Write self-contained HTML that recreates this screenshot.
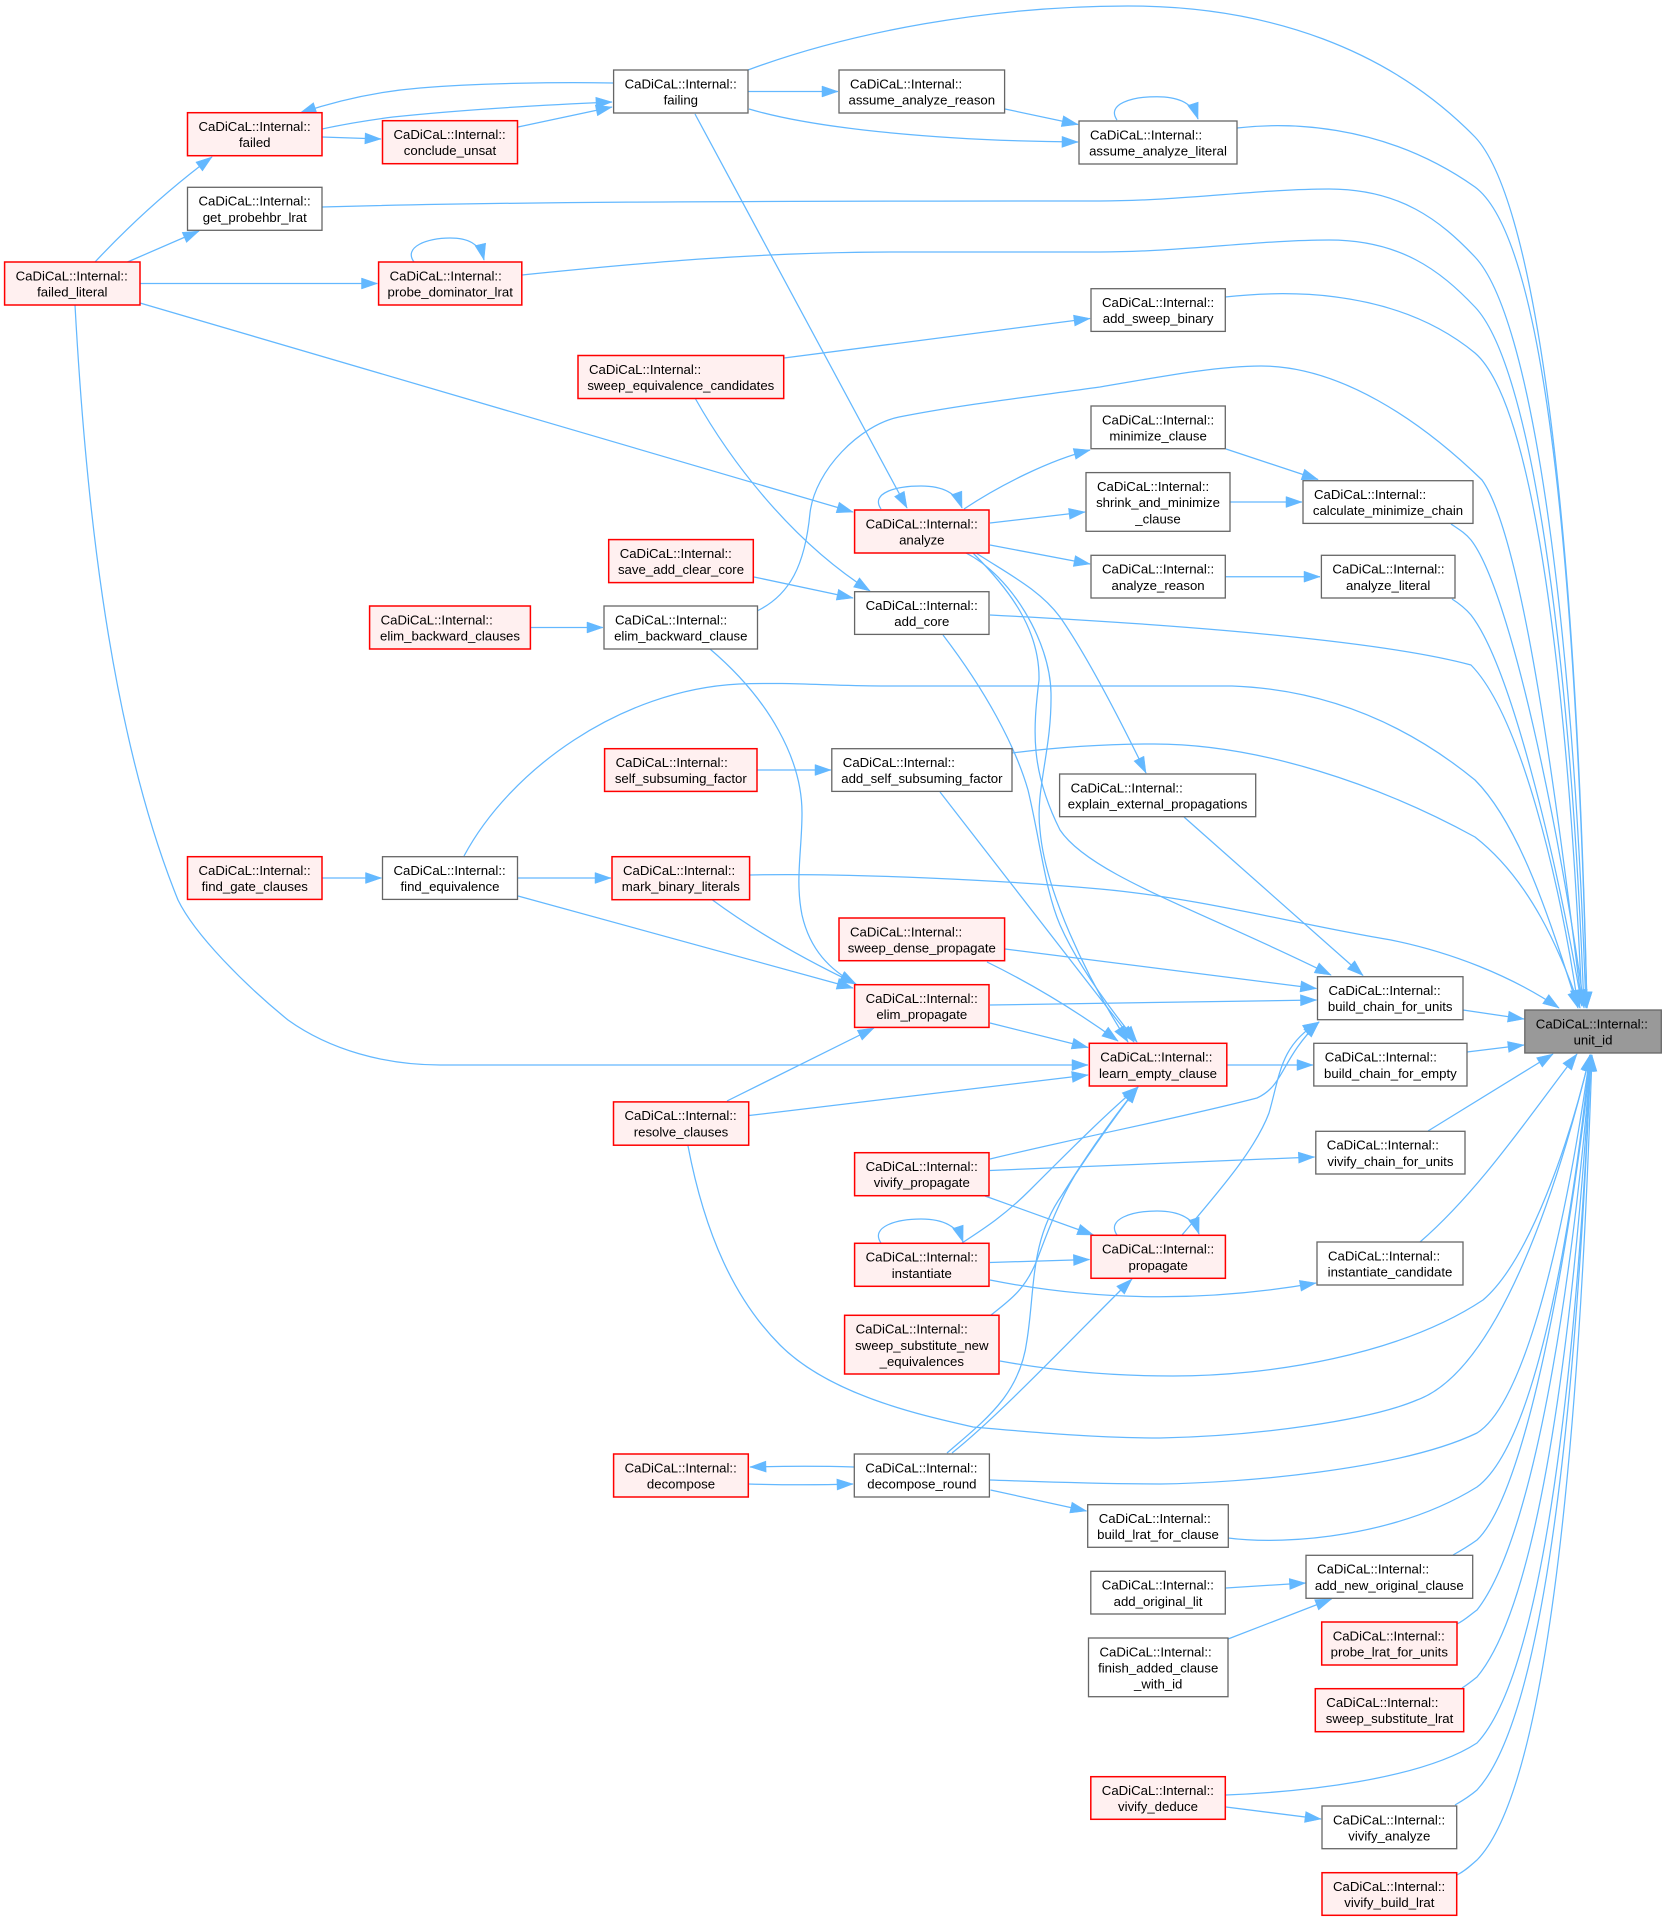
<!DOCTYPE html>
<html><head><meta charset="utf-8"><title>CaDiCaL::Internal::unit_id</title>
<style>
html,body{margin:0;padding:0;background:#fff}
svg{display:block}
text{font-family:"Liberation Sans",Arial,sans-serif;font-size:13.2px;fill:#000}
.m{text-anchor:middle}
.r{fill:#FFF0F0;stroke:#FF0000;stroke-width:1.5}
.g{fill:#fff;stroke:#666;stroke-width:1.3}
.u{fill:#999;stroke:#666;stroke-width:1.3}
.e path{fill:none;stroke:#63B8FF;stroke-width:1.25;marker-end:url(#a)}
</style></head><body>
<svg xmlns="http://www.w3.org/2000/svg" width="1662" height="1921" viewBox="0 0 1662 1921">
<defs><marker id="a" markerUnits="userSpaceOnUse" markerWidth="16" markerHeight="12" refX="16" refY="5.5" orient="auto" overflow="visible"><path d="M0,0 L16,5.5 L0,11 Z" fill="#63B8FF" stroke="#63B8FF" stroke-width="0.5"/></marker></defs>
<g class="e">
<!-- to unit_id from above -->
<path d="M748,70 C850,32 990,6 1128,6 C1270,6 1390,50 1475,137 C1530,195 1575,470 1587,1008"/>
<path d="M1237,128 C1280,123 1380,120 1475,187 C1540,235 1575,520 1587,1008"/>
<path d="M322,207 C500,202 700,201 1100,201 C1180,201 1260,189 1329,189 C1400,189 1440,220 1475,257 C1530,315 1572,600 1586,1008"/>
<path d="M522,275 C650,262 760,252 900,252 L1100,252 C1180,252 1260,240 1329,240 C1400,240 1440,270 1475,307 C1530,365 1570,640 1584,1008"/>
<path d="M1225,297 C1270,292 1390,283 1475,353 C1535,405 1568,690 1582,1006"/>
<path d="M757,611 C790,595 805,565 810,513 C815,470 860,425 899,417 C960,405 1020,398 1100,387 C1170,375 1220,366 1261,366 C1340,366 1420,420 1482,480 C1525,540 1560,830 1582,1006"/>
<path d="M1451,524 C1460,530 1465,533 1471,540 C1510,590 1560,830 1584,1006"/>
<path d="M1452,599 C1460,604 1465,608 1471,615 C1510,665 1555,850 1582,1006"/>
<path d="M990,615 C1090,620 1360,635 1471,665 C1520,715 1560,880 1578,1006"/>
<path d="M464,856 C510,770 620,690 739,684 C790,682 830,686 881,686 L1232,686 C1340,690 1420,735 1475,780 C1520,825 1550,920 1578,1008"/>
<path d="M1012,753 C1060,747 1110,744 1154,744 C1260,744 1380,785 1475,837 C1530,880 1560,950 1580,1008"/>
<path d="M750,875 C850,873 1000,880 1100,889 C1200,898 1300,925 1391,940 C1450,952 1510,975 1559,1008"/>
<path d="M1463,1010 L1524,1019"/>
<path d="M1467,1052 L1524,1045"/>
<!-- to unit_id from below -->
<path d="M1428,1131 L1553,1054"/>
<path d="M1420,1242 C1480,1190 1530,1115 1577,1054"/>
<path d="M1000,1361 C1060,1372 1120,1376 1173,1376 C1270,1376 1400,1355 1483,1300 C1530,1260 1570,1140 1590,1055"/>
<path d="M688,1146 C705,1235 735,1300 780,1345 C830,1395 920,1415 973,1427 C1040,1433 1100,1438 1160,1438 C1260,1436 1370,1420 1417,1400 C1500,1370 1560,1180 1590,1055"/>
<path d="M990,1480 C1050,1482 1100,1484 1160,1484 C1240,1483 1400,1470 1477,1433 C1530,1400 1570,1200 1590,1055"/>
<path d="M1228,1538 C1290,1546 1400,1535 1477,1487 C1540,1440 1575,1200 1590,1055"/>
<path d="M1453,1555 C1462,1550 1470,1545 1477,1540 C1530,1490 1575,1210 1591,1055"/>
<path d="M1457,1624 C1465,1620 1470,1615 1477,1610 C1540,1530 1578,1230 1591,1055"/>
<path d="M1462,1688 C1467,1685 1472,1681 1477,1677 C1550,1590 1580,1240 1591,1055"/>
<path d="M1226,1795 C1300,1792 1420,1780 1477,1743 C1555,1660 1582,1260 1591,1055"/>
<path d="M1455,1805 C1462,1801 1470,1796 1477,1790 C1560,1700 1582,1260 1591,1055"/>
<path d="M1457,1875 C1465,1871 1470,1866 1477,1860 C1565,1770 1585,1260 1592,1055"/>
<!-- upper left -->
<path d="M613,83 C560,82 480,83 420,88 C370,92 330,103 300,113"/>
<path d="M322,129 C345,124 370,120 393,117 C450,111 520,106 612,102"/>
<path d="M518,127 L612,107"/>
<path d="M322,137 L381,139"/>
<path d="M748,91.5 L838,91.5"/>
<path d="M1005,109 L1078,124.5"/>
<path d="M749,109 C820,130 950,141 1078,142"/>
<path d="M95,262 C125,230 165,192 212,157"/>
<path d="M127.500,262 L199,231"/>
<path d="M140,283.500 L377.500,283.500"/>
<path d="M140,303 L853,512"/>
<path d="M695,114 L907,508"/>
<path d="M784,358 L1090,318.500"/>
<path d="M695,398 C730,460 790,540 870,591"/>
<!-- loops -->
<path d="M1117,120 C1106,104 1132,96.700 1157,96.700 C1175,96.700 1192,101 1198,119"/>
<path d="M414,262 C403,247 427,238 450,238 C467,238 480,243 484,260"/>
<path d="M881,509 C870,493 896,486 921,486 C939,486 956,491 962,508"/>
<path d="M881,1243 C870,1227 896,1219 921,1219 C939,1219 957,1224 963,1242"/>
<path d="M1117,1235 C1106,1219 1132,1211 1157,1211 C1175,1211 1193,1216 1199,1234"/>
<!-- analyze area -->
<path d="M964,509 C1000,485 1050,460 1090,450"/>
<path d="M990,523 L1085,512"/>
<path d="M990,545 L1090,564"/>
<path d="M1225,576.700 L1320,576.700"/>
<path d="M1230,502 L1302,502"/>
<path d="M1226,449 L1318,479.500"/>
<path d="M754,577 L853,598"/>
<path d="M530,627.500 L603,627.500"/>
<path d="M757,770 L831,770"/>
<path d="M322,878 L381.500,878"/>
<path d="M517.500,878 L611,878"/>
<path d="M518,896 L853,988"/>
<path d="M712.500,900 C760,935 810,962 856,984"/>
<path d="M710,649 C770,700 802,760 802,813 C802,850 795,880 802,915 C810,950 830,970 856,984"/>
<!-- into learn_empty_clause from above -->
<path d="M940,792 L1134,1042"/>
<path d="M943,635 C985,690 1015,745 1028,790 C1040,840 1045,890 1060,925 C1080,970 1115,1015 1137,1042"/>
<path d="M966,553 C1010,575 1050,640 1051,693 C1052,750 1035,790 1040,830 C1045,890 1085,975 1128,1042"/>
<path d="M973,553 C1010,590 1040,630 1039,680 C1033,730 1030,770 1060,830 C1090,875 1200,910 1331,975"/>
<path d="M976,553 C1010,575 1040,590 1060,617 C1090,660 1125,730 1146,773"/>
<path d="M1184,817 L1363,975.500"/>
<path d="M1005,949 L1316.500,988.500"/>
<path d="M990,1005 L1316.500,1000"/>
<path d="M990,1023 L1088,1047.500"/>
<path d="M987,962 C1030,983 1075,1010 1118,1041"/>
<path d="M75,305 C84,470 105,720 178,900 C195,935 245,985 288,1020 C330,1050 385,1065 440,1065 L1088,1065"/>
<path d="M749,1115.500 L1088,1075"/>
<path d="M727,1101 L874,1028"/>
<path d="M1227,1065 L1313,1065"/>
<!-- lower middle -->
<path d="M990,1159 C1090,1135 1180,1118 1257,1098 C1285,1085 1280,1060 1319,1022"/>
<path d="M990,1170.500 L1314.500,1157"/>
<path d="M985,1196 L1093.500,1235"/>
<path d="M1182,1235 C1220,1190 1255,1150 1269,1113 C1280,1075 1280,1045 1319,1022"/>
<path d="M990,1262.500 L1089.500,1259.500"/>
<path d="M990,1280 C1080,1298 1190,1305 1316,1283"/>
<path d="M962,1243 C985,1228 1005,1215 1030,1190 C1070,1150 1110,1110 1138,1087"/>
<path d="M991,1315 C1010,1300 1025,1290 1037,1260 C1050,1225 1060,1200 1075,1175 C1095,1145 1120,1110 1138,1087"/>
<path d="M947,1453 C985,1420 1020,1395 1027,1340 C1035,1290 1030,1240 1062,1195 C1090,1150 1115,1115 1138,1087"/>
<path d="M952,1453 C1000,1415 1080,1330 1132,1279"/>
<path d="M854,1467 C820,1466 790,1466 750,1467"/>
<path d="M748,1484 C785,1485 820,1485 853,1484"/>
<path d="M990.500,1490 L1086.500,1511"/>
<path d="M1226,1588 L1305.500,1583"/>
<path d="M1228,1639 L1331.500,1599"/>
<path d="M1226,1807 L1321,1819"/>
</g>

<g>
<rect class="r" x="187.500" y="112.700" width="134.500" height="43"/><text x="198.500" y="131">CaDiCaL::Internal::</text><text class="m" x="254.750" y="147.200">failed</text>
<rect class="r" x="382.500" y="120.700" width="135" height="43"/><text x="393.500" y="139">CaDiCaL::Internal::</text><text class="m" x="450" y="155.200">conclude_unsat</text>
<rect class="g" x="187.500" y="187.300" width="134.500" height="43"/><text x="198.500" y="205.600">CaDiCaL::Internal::</text><text class="m" x="254.750" y="221.800">get_probehbr_lrat</text>
<rect class="r" x="4.600" y="262" width="135.400" height="43"/><text x="15.600" y="280.300">CaDiCaL::Internal::</text><text class="m" x="72.300" y="296.500">failed_literal</text>
<rect class="r" x="378.600" y="262" width="143.200" height="43"/><text x="389.600" y="280.300">CaDiCaL::Internal::</text><text class="m" x="450.200" y="296.500">probe_dominator_lrat</text>
<rect class="g" x="613.600" y="70" width="134.400" height="43"/><text x="624.600" y="88.300">CaDiCaL::Internal::</text><text class="m" x="680.800" y="104.500">failing</text>
<rect class="g" x="839" y="70" width="165.600" height="43"/><text x="850" y="88.300">CaDiCaL::Internal::</text><text class="m" x="921.800" y="104.500">assume_analyze_reason</text>
<rect class="g" x="1079" y="121" width="158" height="43"/><text x="1090" y="139.300">CaDiCaL::Internal::</text><text class="m" x="1158" y="155.500">assume_analyze_literal</text>
<rect class="g" x="1091" y="288.700" width="134.300" height="42.700"/><text x="1102" y="307">CaDiCaL::Internal::</text><text class="m" x="1158.100" y="323.200">add_sweep_binary</text>
<rect class="r" x="578" y="355.500" width="205.700" height="43"/><text x="589" y="373.800">CaDiCaL::Internal::</text><text class="m" x="680.800" y="390">sweep_equivalence_candidates</text>
<rect class="g" x="1091" y="406" width="134.300" height="42.700"/><text x="1102" y="424.300">CaDiCaL::Internal::</text><text class="m" x="1158.100" y="440.500">minimize_clause</text>
<rect class="g" x="1086" y="472.600" width="144" height="58.700"/><text x="1097" y="490.900">CaDiCaL::Internal::</text><text class="m" x="1158" y="507.100">shrink_and_minimize</text><text class="m" x="1158" y="523.300">_clause</text>
<rect class="r" x="854.600" y="510" width="134.400" height="43"/><text x="865.600" y="528.300">CaDiCaL::Internal::</text><text class="m" x="921.800" y="544.500">analyze</text>
<rect class="r" x="608.700" y="539.600" width="144.600" height="43"/><text x="619.700" y="557.900">CaDiCaL::Internal::</text><text class="m" x="681" y="574.100">save_add_clear_core</text>
<rect class="g" x="1091" y="555.300" width="134.300" height="42.700"/><text x="1102" y="573.600">CaDiCaL::Internal::</text><text class="m" x="1158.100" y="589.800">analyze_reason</text>
<rect class="g" x="1303" y="480.700" width="170" height="42.700"/><text x="1314" y="499">CaDiCaL::Internal::</text><text class="m" x="1388" y="515.200">calculate_minimize_chain</text>
<rect class="g" x="1321.400" y="555.300" width="133.600" height="42.700"/><text x="1332.400" y="573.600">CaDiCaL::Internal::</text><text class="m" x="1388.200" y="589.800">analyze_literal</text>
<rect class="g" x="854.600" y="591.700" width="134.400" height="42.700"/><text x="865.600" y="610">CaDiCaL::Internal::</text><text class="m" x="921.800" y="626.200">add_core</text>
<rect class="g" x="604" y="606" width="153.500" height="43"/><text x="615" y="624.300">CaDiCaL::Internal::</text><text class="m" x="680.800" y="640.500">elim_backward_clause</text>
<rect class="r" x="369.600" y="606" width="160.800" height="43"/><text x="380.600" y="624.300">CaDiCaL::Internal::</text><text class="m" x="450" y="640.500">elim_backward_clauses</text>
<rect class="r" x="604.600" y="748.700" width="152.400" height="42.700"/><text x="615.600" y="767">CaDiCaL::Internal::</text><text class="m" x="680.800" y="783.200">self_subsuming_factor</text>
<rect class="g" x="831.800" y="748.700" width="180.200" height="42.700"/><text x="842.800" y="767">CaDiCaL::Internal::</text><text class="m" x="921.900" y="783.200">add_self_subsuming_factor</text>
<rect class="g" x="1059.600" y="774" width="196.100" height="42.700"/><text x="1070.600" y="792.300">CaDiCaL::Internal::</text><text class="m" x="1157.600" y="808.500">explain_external_propagations</text>
<rect class="r" x="612" y="856.700" width="137.600" height="43"/><text x="623" y="875">CaDiCaL::Internal::</text><text class="m" x="680.800" y="891.200">mark_binary_literals</text>
<rect class="r" x="187.500" y="856.700" width="134.500" height="42.700"/><text x="198.500" y="875">CaDiCaL::Internal::</text><text class="m" x="254.750" y="891.200">find_gate_clauses</text>
<rect class="g" x="382.500" y="856.700" width="135" height="42.700"/><text x="393.500" y="875">CaDiCaL::Internal::</text><text class="m" x="450" y="891.200">find_equivalence</text>
<rect class="r" x="839" y="918" width="165.600" height="42.700"/><text x="850" y="936.300">CaDiCaL::Internal::</text><text class="m" x="921.800" y="952.500">sweep_dense_propagate</text>
<rect class="r" x="854.600" y="984.700" width="134.400" height="42.700"/><text x="865.600" y="1003">CaDiCaL::Internal::</text><text class="m" x="921.800" y="1019.200">elim_propagate</text>
<rect class="r" x="1089.300" y="1043.300" width="137.500" height="42.700"/><text x="1100.300" y="1061.600">CaDiCaL::Internal::</text><text class="m" x="1158" y="1077.800">learn_empty_clause</text>
<rect class="g" x="1317.500" y="976.700" width="145.500" height="43"/><text x="1328.500" y="995">CaDiCaL::Internal::</text><text class="m" x="1390.200" y="1011.200">build_chain_for_units</text>
<rect class="g" x="1313.800" y="1043.300" width="153.200" height="42.700"/><text x="1324.800" y="1061.600">CaDiCaL::Internal::</text><text class="m" x="1390.400" y="1077.800">build_chain_for_empty</text>
<rect class="g" x="1315.800" y="1131.300" width="149.200" height="42.700"/><text x="1326.800" y="1149.600">CaDiCaL::Internal::</text><text class="m" x="1390.400" y="1165.800">vivify_chain_for_units</text>
<rect class="u" x="1524.800" y="1010" width="136.500" height="43"/><text x="1535.800" y="1028.300">CaDiCaL::Internal::</text><text class="m" x="1593" y="1044.500">unit_id</text>
<rect class="g" x="1317" y="1242" width="146" height="43"/><text x="1328" y="1260.300">CaDiCaL::Internal::</text><text class="m" x="1390" y="1276.500">instantiate_candidate</text>
<rect class="r" x="854.600" y="1152.700" width="134.400" height="43"/><text x="865.600" y="1171">CaDiCaL::Internal::</text><text class="m" x="921.800" y="1187.200">vivify_propagate</text>
<rect class="r" x="854.600" y="1243.300" width="134.400" height="43"/><text x="865.600" y="1261.600">CaDiCaL::Internal::</text><text class="m" x="921.800" y="1277.800">instantiate</text>
<rect class="r" x="1091" y="1235.300" width="134.400" height="43"/><text x="1102" y="1253.600">CaDiCaL::Internal::</text><text class="m" x="1158.200" y="1269.800">propagate</text>
<rect class="r" x="844.600" y="1315.300" width="154.400" height="58.700"/><text x="855.600" y="1333.600">CaDiCaL::Internal::</text><text class="m" x="921.800" y="1349.800">sweep_substitute_new</text><text class="m" x="921.800" y="1366">_equivalences</text>
<rect class="r" x="613.500" y="1101.900" width="135.200" height="43.300"/><text x="624.500" y="1120.200">CaDiCaL::Internal::</text><text class="m" x="681" y="1136.400">resolve_clauses</text>
<rect class="r" x="613.600" y="1454" width="134.700" height="43"/><text x="624.600" y="1472.300">CaDiCaL::Internal::</text><text class="m" x="681" y="1488.500">decompose</text>
<rect class="g" x="854.300" y="1454" width="135.100" height="43"/><text x="865.300" y="1472.300">CaDiCaL::Internal::</text><text class="m" x="921.900" y="1488.500">decompose_round</text>
<rect class="g" x="1087.700" y="1504.700" width="140.600" height="42.600"/><text x="1098.700" y="1523">CaDiCaL::Internal::</text><text class="m" x="1158" y="1539.200">build_lrat_for_clause</text>
<rect class="g" x="1090.800" y="1571.300" width="134.500" height="42.700"/><text x="1101.800" y="1589.600">CaDiCaL::Internal::</text><text class="m" x="1158" y="1605.800">add_original_lit</text>
<rect class="g" x="1088.500" y="1638" width="139.500" height="58.700"/><text x="1099.500" y="1656.300">CaDiCaL::Internal::</text><text class="m" x="1158.200" y="1672.500">finish_added_clause</text><text class="m" x="1158.200" y="1688.700">_with_id</text>
<rect class="r" x="1090.800" y="1776.700" width="134.500" height="42.600"/><text x="1101.800" y="1795">CaDiCaL::Internal::</text><text class="m" x="1158" y="1811.200">vivify_deduce</text>
<rect class="g" x="1306" y="1555.300" width="166.700" height="43"/><text x="1317" y="1573.600">CaDiCaL::Internal::</text><text class="m" x="1389.300" y="1589.800">add_new_original_clause</text>
<rect class="r" x="1321.700" y="1622" width="135.300" height="43"/><text x="1332.700" y="1640.300">CaDiCaL::Internal::</text><text class="m" x="1389.300" y="1656.500">probe_lrat_for_units</text>
<rect class="r" x="1315.300" y="1688.700" width="148.400" height="43"/><text x="1326.300" y="1707">CaDiCaL::Internal::</text><text class="m" x="1389.500" y="1723.200">sweep_substitute_lrat</text>
<rect class="g" x="1322" y="1806" width="134.700" height="42.700"/><text x="1333" y="1824.300">CaDiCaL::Internal::</text><text class="m" x="1389.300" y="1840.500">vivify_analyze</text>
<rect class="r" x="1322" y="1872.700" width="134.700" height="42.600"/><text x="1333" y="1891">CaDiCaL::Internal::</text><text class="m" x="1389.300" y="1907.200">vivify_build_lrat</text>
</g>
</svg>
</body></html>
